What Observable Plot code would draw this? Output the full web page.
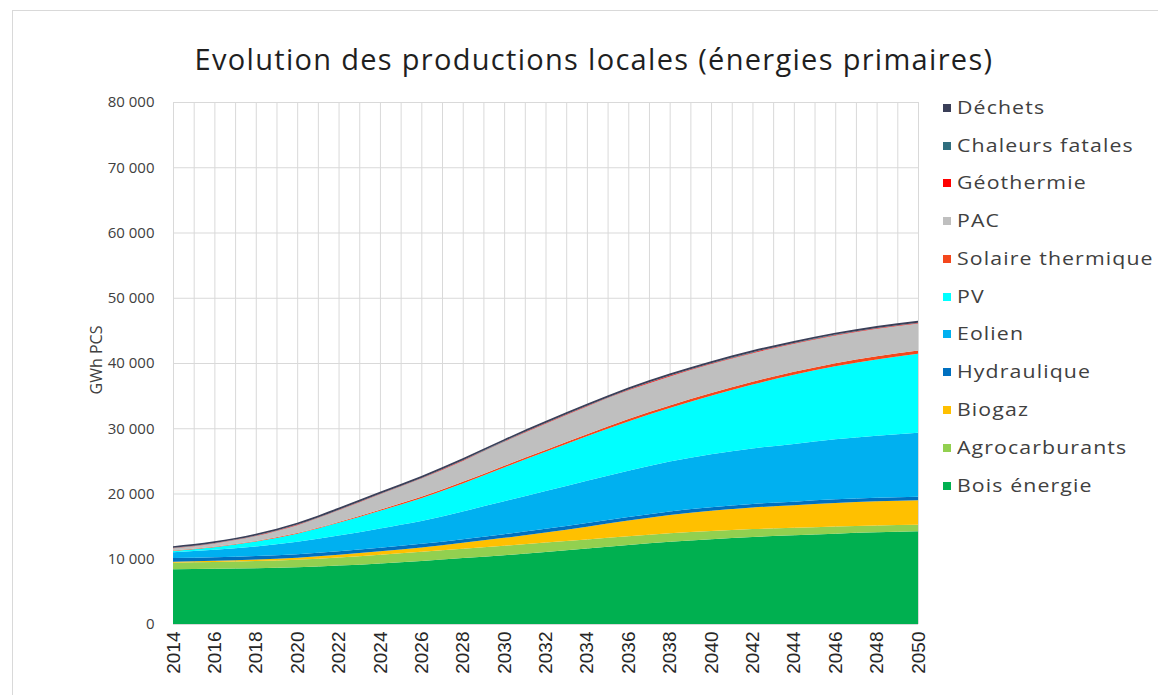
<!DOCTYPE html>
<html><head><meta charset="utf-8">
<script src="https://cdn.jsdelivr.net/npm/d3@7"></script>
<script src="https://cdn.jsdelivr.net/npm/@observablehq/plot@0.6"></script>
<style>
body{margin:0;background:#fff;width:1158px;height:695px;overflow:hidden;position:relative;font-family:"Open Sans",sans-serif;}
#frame{position:absolute;left:12px;top:10px;width:1160px;height:700px;border-left:1px solid #d9d9d9;border-top:1px solid #d9d9d9;}
#title{position:absolute;left:0;width:1188px;top:39px;text-align:center;font-size:29px;letter-spacing:1.3px;color:#1f1f1f;white-space:nowrap;}
#chart{position:absolute;left:0;top:90px;}
#legend{position:absolute;left:943px;top:0;}
.item{position:absolute;left:0;height:22px;line-height:22px;white-space:nowrap;font-size:19px;color:#404040;}
.sw{display:inline-block;width:8px;height:8px;margin-right:6px;vertical-align:2px;}
.lab{display:inline-block;transform:scaleX(1.12);transform-origin:left center;letter-spacing:1px;}
#ytitle{position:absolute;left:96px;top:360px;line-height:16px;transform:translate(-50%,-50%) rotate(-90deg);font-size:16px;color:#404040;white-space:nowrap;}
</style></head>
<body>
<div id="frame"></div>
<div id="title">Evolution des productions locales (énergies primaires)</div>
<div id="ytitle">GWh PCS</div>
<div id="chart"></div>
<div id="legend"></div>
<script>
const years = [2014,2016,2018,2020,2022,2024,2026,2028,2030,2032,2034,2036,2038,2040,2042,2044,2046,2048,2050];
const boisEnergie      = [8400,8450,8550,8700,8950,9280,9660,10100,10550,11030,11560,12100,12600,13000,13350,13600,13850,14050,14200];
const agrocarburants   = [1000,1050,1100,1150,1250,1350,1400,1450,1450,1450,1400,1350,1300,1250,1200,1150,1100,1050,1000];
const biogaz           = [150,180,230,300,400,520,680,900,1200,1550,1950,2400,2800,3100,3300,3450,3600,3700,3750];
const hydraulique      = [550,550,550,550,550,550,550,550,550,550,550,550,550,550,550,550,550,550,550];
const eolien           = [900,1150,1450,1900,2400,2950,3500,4250,5050,5800,6500,7100,7650,8100,8500,8850,9200,9500,9800];
const pv               = [200,400,750,1250,1950,2700,3500,4300,5200,6000,6800,7550,8200,9000,9800,10600,11200,11700,12100];
const solaireThermique = [50,70,85,100,130,170,200,240,270,300,330,370,400,420,440,450,470,490,500];
const pac              = [350,500,780,1200,1800,2350,2800,3200,3650,4000,4250,4400,4450,4420,4370,4300,4250,4200,4150];
const geothermie       = [40,40,40,50,50,50,60,60,60,70,70,70,80,80,80,80,80,80,80];
const chaleursFatales  = [30,30,30,40,40,40,40,50,50,50,50,50,50,50,50,50,50,50,50];
const dechets          = [250,260,270,280,290,300,300,300,300,300,300,300,300,300,300,300,300,300,300];

const seriesNames  = ["Bois énergie","Agrocarburants","Biogaz","Hydraulique","Eolien","PV","Solaire thermique","PAC","Géothermie","Chaleurs fatales","Déchets"];
const seriesValues = [boisEnergie,agrocarburants,biogaz,hydraulique,eolien,pv,solaireThermique,pac,geothermie,chaleursFatales,dechets];
const seriesColors = ["#00B050","#92D050","#FFC000","#0070C0","#00B0F0","#00FFFF","#F4471C","#BFBFBF","#FF0000","#2F6E7E","#3A3F58"];
const yTicks = [0,10000,20000,30000,40000,50000,60000,70000,80000];
const xTicks = [2014,2016,2018,2020,2022,2024,2026,2028,2030,2032,2034,2036,2038,2040,2042,2044,2046,2048,2050];

const data = seriesNames.flatMap((name, k) => years.map((yr, i) => ({year: yr, value: seriesValues[k][i], serie: name})));

const chart = Plot.plot({
  width: 930, height: 600,
  marginLeft: 173, marginRight: 12, marginTop: 12, marginBottom: 66,
  style: {fontFamily: "Open Sans", background: "transparent"},
  x: {domain: [2014, 2050]},
  y: {domain: [0, 80000]},
  color: {domain: seriesNames, range: seriesColors},
  marks: [
    Plot.gridX(d3.range(2014, 2051), {stroke: "#d9d9d9", strokeOpacity: 1}),
    Plot.gridY(yTicks, {stroke: "#d9d9d9", strokeOpacity: 1}),
    Plot.areaY(data, {x: "year", y: "value", fill: "serie", z: "serie", order: seriesNames, curve: "monotone-x"}),
    Plot.axisY({ticks: yTicks, tickSize: 0, tickPadding: 19, label: null, fontSize: 15, fill: "#404040",
      tickFormat: d => d === 0 ? "0" : d3.format(",")(d).replace(",", " ")}),
    Plot.axisX({ticks: xTicks, tickSize: 0, tickPadding: 7, tickRotate: -90, label: null, fontSize: 19,
      fontFamily: "Liberation Sans", fill: "#262626", tickFormat: d => String(d)})
  ]
});
document.getElementById("chart").appendChild(chart);

const legendCenters = [107,145,182,220,258,296,333,371,409,447,485];
const legend = document.getElementById("legend");
const legendOrder = seriesNames.slice().reverse();
legendOrder.forEach((name, i) => {
  const color = seriesColors[seriesNames.indexOf(name)];
  const div = document.createElement("div");
  div.className = "item";
  div.style.top = (legendCenters[i] - 11) + "px";
  div.innerHTML = `<span class="sw" style="background:${color}"></span><span class="lab">${name}</span>`;
  legend.appendChild(div);
});
</script>
</body></html>
